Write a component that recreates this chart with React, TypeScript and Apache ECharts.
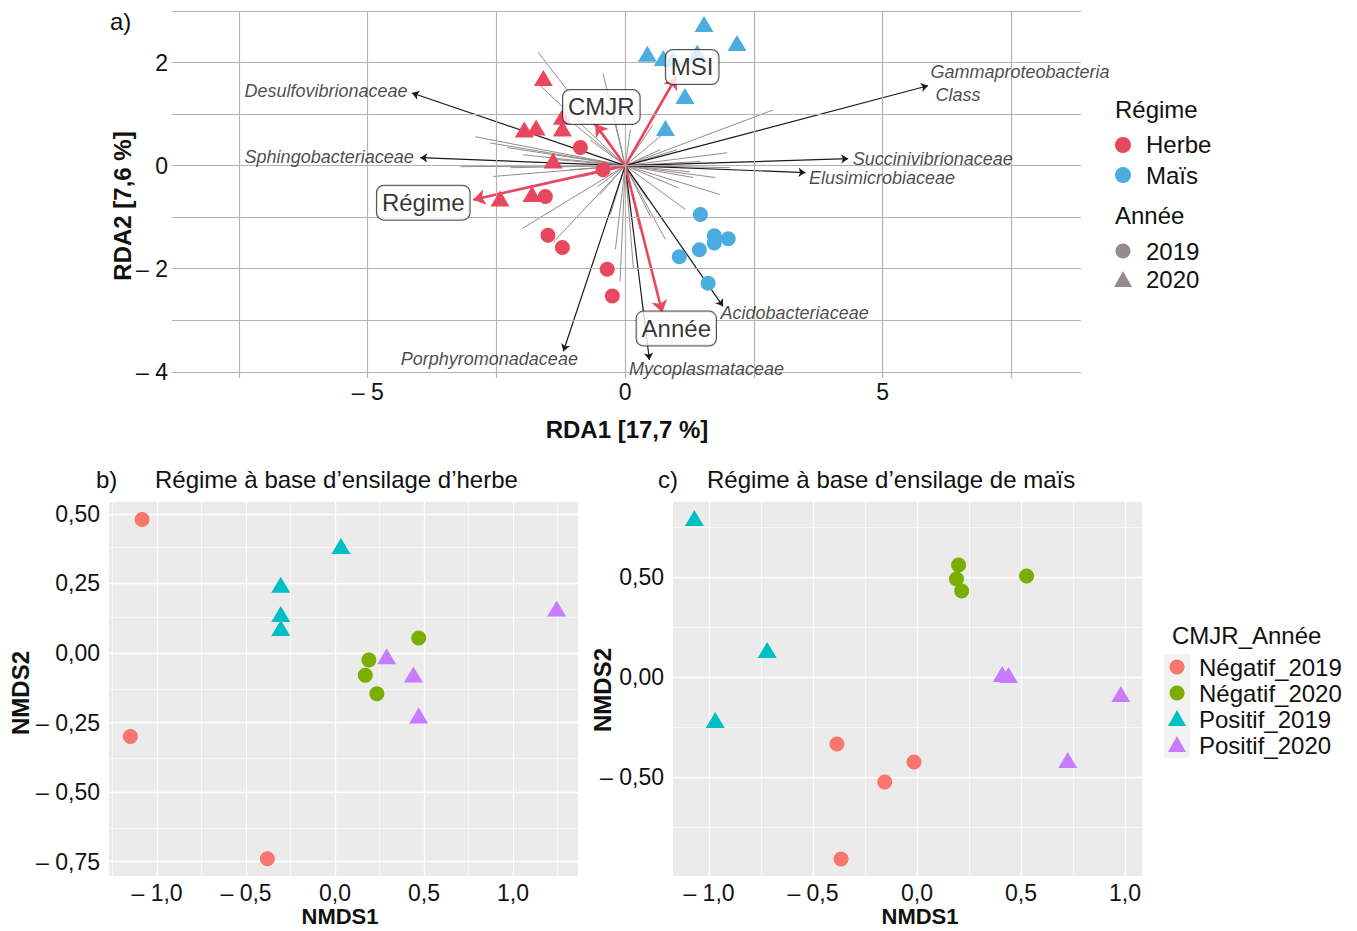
import { useEffect, useRef } from 'react';
import * as echarts from 'echarts';

// ---------- Panel a) RDA ----------
const herbe2019 = [[-0.87, 0.35], [-0.43, -0.08], [-1.55, -0.6], [-1.5, -1.35], [-1.22, -1.59], [-0.35, -2.01], [-0.25, -2.53]];
const herbe2020 = [[-1.59, 1.7], [-1.96, 0.7], [-1.73, 0.74], [-1.22, 0.95], [-1.22, 0.72], [-1.4, 0.1], [-2.43, -0.64], [-1.81, -0.55]];
const mais2019 = [[1.46, -0.95], [1.73, -1.36], [1.73, -1.5], [2.0, -1.42], [1.44, -1.63], [1.05, -1.77], [1.61, -2.28]];
const mais2020 = [[0.43, 2.17], [0.74, 2.09], [0.93, 2.07], [1.4, 2.19], [1.53, 2.75], [2.17, 2.38], [1.16, 1.35], [0.78, 0.73]];

const grayEnds = [
  [-1.69, 2.2], [-0.43, 1.78], [-1.65, 1.55], [-2.91, 0.56], [-3.2, -0.02], [-2.62, 0.44], [-2.29, 0.35],
  [-1.98, 0.21], [-2.56, -0.21], [-2.0, -1.22], [-1.4, -1.49], [-0.82, -0.21], [-0.54, -0.41], [-0.1, -2.25],
  [2.87, 1.08], [1.98, 0.25], [1.01, 0.31], [0.72, 0.6], [0.54, 0.79], [1.84, -0.56], [1.75, -0.23],
  [1.17, -0.85], [1.03, -0.43], [0.49, -0.99], [0.43, -0.66], [-0.25, 1.12], [0.1, 0.7], [0.29, 0.5],
  [1.46, 0.08], [2.04, -0.04], [1.26, -0.12], [-1.36, 0.12], [-1.07, -0.08], [-2.23, -0.04], [-0.49, -0.56],
  [-0.29, -0.95], [0.29, -1.24], [0.78, -1.43], [-0.68, 0.5], [-0.97, 0.79], [0.68, 0.31], [1.32, -0.23],
  [-0.19, -1.62], [0.16, -2.01],
];

const speciesNames = ['Desulfovibrionaceae', 'Sphingobacteriaceae', 'Gammaproteobacteria\n Class', 'Succinivibrionaceae', 'Elusimicrobiaceae', 'Acidobacteriaceae', 'Porphyromonadaceae', 'Mycoplasmataceae'];
const speciesX = [-4.14, -3.98, 5.88, 4.33, 3.5, 1.9, -1.2, 0.47];
const speciesY = [1.41, 0.155, 1.55, 0.135, -0.135, -2.73, -3.6, -3.77];

const envNames = ['MSI', 'CMJR', 'Régime', 'Année'];
const envX = [0.99, -0.58, -2.95, 0.72];
const envY = [1.72, 0.81, -0.66, -2.85];

const topXTicks = [-5, 0, 5];
const topYTicks = [-4, -2, 0, 2];
const topXGrid = [-7.5, -5, -2.5, 0, 2.5, 5, 7.5];
const topYGrid = [-4, -3, -2, -1, 0, 1, 2, 3];

// ---------- Panel b) herbe ----------
const bNeg2019 = [[-1.084, 0.48], [-1.15, -0.3], [-0.38, -0.74]];
const bNeg2020 = [[0.47, 0.054], [0.19, -0.025], [0.17, -0.08], [0.235, -0.147]];
const bPos2019 = [[0.033, 0.385], [-0.305, 0.245], [-0.305, 0.14], [-0.305, 0.09]];
const bPos2020 = [[1.245, 0.16], [0.29, -0.012], [0.44, -0.077], [0.47, -0.225]];
const bXTicks = [-1, -0.5, 0, 0.5, 1];
const bYTicks = [-0.75, -0.5, -0.25, 0, 0.25, 0.5];
const bXMinor = [-1.25, -0.75, -0.25, 0.25, 0.75, 1.25];
const bYMinor = [-0.625, -0.375, -0.125, 0.125, 0.375];

// ---------- Panel c) maïs ----------
const cNeg2019 = [[-0.385, -0.335], [-0.014, -0.425], [-0.155, -0.525], [-0.365, -0.91]];
const cNeg2020 = [[0.2, 0.56], [0.19, 0.49], [0.215, 0.43], [0.527, 0.505]];
const cPos2019 = [[-1.07, 0.795], [-0.72, 0.135], [-0.97, -0.215]];
const cPos2020 = [[0.41, 0.015], [0.44, 0.01], [0.98, -0.085], [0.725, -0.415]];
const cXTicks = [-1, -0.5, 0, 0.5, 1];
const cYTicks = [-0.5, 0, 0.5];
const cXMinor = [-0.75, -0.25, 0.25, 0.75];
const cYMinor = [-0.75, -0.25, 0.25, 0.75];

const FONT = "'Liberation Sans', Arial, Helvetica, sans-serif";
const HERBE = '#E8485F';
const MAIS = '#4BACE0';
const GRAYLEG = '#958B8B';
const GRAYLINE = '#958B8B';
const TOPGRID = '#B9B1B1';
const COL = ['#F8766D', '#7CAE00', '#00BFC4', '#C77CFF'];
const TXT = '#111';

const dash = (v: number, s: string) => (v < 0 ? '– ' + s : s);
const fmtTop = (v: number) => dash(v, String(Math.abs(v)));
const fmt1 = (v: number) => dash(v, Math.abs(v).toFixed(1).replace('.', ','));
const fmt2 = (v: number) => dash(v, Math.abs(v).toFixed(2).replace('.', ','));

function gridSeries(idx: number, xs: number[], ys: number[], color: string, width: number, xsMinor: number[] = [], ysMinor: number[] = [], minorW = 0) {
  const data: any[] = [];
  xsMinor.forEach((v) => data.push({ xAxis: v, lineStyle: { width: minorW, color, type: 'solid' } }));
  ysMinor.forEach((v) => data.push({ yAxis: v, lineStyle: { width: minorW, color, type: 'solid' } }));
  xs.forEach((v) => data.push({ xAxis: v, lineStyle: { width, color, type: 'solid' } }));
  ys.forEach((v) => data.push({ yAxis: v, lineStyle: { width, color, type: 'solid' } }));
  return {
    type: 'scatter', xAxisIndex: idx, yAxisIndex: idx, data: [], z: 0, silent: true,
    markLine: { silent: true, symbol: ['none', 'none'], label: { show: false }, emphasis: { disabled: true }, data, animation: false },
  };
}

const CIRCLE = 15;
const TRI = [19, 16];

function pts(idx: number, name: string, data: number[][], color: string, tri: boolean) {
  return {
    type: 'scatter', name, xAxisIndex: idx, yAxisIndex: idx, data, z: 5,
    symbol: tri ? 'triangle' : 'circle', symbolSize: tri ? TRI : CIRCLE,
    itemStyle: { color, opacity: 1 }, silent: true,
  };
}

function arrowSeries(ends: number[][], color: string, width: number, head: number, z: number) {
  return {
    type: 'lines', coordinateSystem: 'cartesian2d', xAxisIndex: 0, yAxisIndex: 0, z, silent: true,
    symbol: ['none', head > 0 ? 'arrow' : 'none'], symbolSize: [0, head],
    lineStyle: { color, width, opacity: 1, curveness: 0 },
    data: ends.map((e) => ({ coords: [[0, 0], e] })),
  };
}

const spPos = ['left', 'left', 'right', 'right', 'right', 'right', 'left', 'right'];
const spAlign = ['right', 'right', 'left', 'left', 'left', 'left', 'right', 'left'];
const spDist = [4, 6, 2, 4, 3, 0, 0, 0];
const spOff = [[0, -2], [0, -1], [0, -2], [0, 0], [0, 5], [-3, 7], [15, 8], [-21, 9]];
const envOff = [[16, -10], [6, -17], [-50, 3], [14, 16]];

function valueAxis(idx: number, min: number, max: number, ticks: number[], fmt: (v: number) => string, margin: number, showTick: boolean) {
  return {
    type: 'value', gridIndex: idx, min, max, scale: true,
    axisLine: { show: false },
    splitLine: { show: false },
    axisTick: showTick ? { show: true, customValues: ticks, length: 4, lineStyle: { color: '#333', width: 1 } } : { show: false },
    axisLabel: { customValues: ticks, formatter: fmt, fontSize: 23, lineHeight: 23, fontFamily: FONT, color: TXT, margin },
  };
}

function txt(text: string, x: number, y: number, size: number, opts: any = {}) {
  return {
    type: 'text', x, y, rotation: opts.rotation || 0, silent: true,
    style: {
      text, x: 0, y: 0, fill: opts.fill || TXT,
      font: `${opts.style || 'normal'} ${opts.weight || 'normal'} ${size}px ${FONT}`,
      textAlign: opts.align || 'left', textVerticalAlign: 'middle', align: opts.align || 'left', verticalAlign: 'middle',
    },
  };
}

const triPts = (cx: number, cy: number, w: number, h: number) => [[cx - w / 2, cy + h / 2], [cx + w / 2, cy + h / 2], [cx, cy - h / 2]];

const option: any = {
  animation: false,
  backgroundColor: '#fff',
  grid: [
    { left: 172, top: 11, width: 909, height: 367, show: false },
    { left: 109, top: 502, width: 469, height: 374, show: true, backgroundColor: '#EBEBEB', borderWidth: 0 },
    { left: 673, top: 502, width: 469, height: 374, show: true, backgroundColor: '#EBEBEB', borderWidth: 0 },
  ],
  xAxis: [
    valueAxis(0, -8.8, 8.85, topXTicks, fmtTop, 2, false),
    valueAxis(1, -1.27, 1.365, bXTicks, fmt1, 5, true),
    valueAxis(2, -1.173, 1.082, cXTicks, fmt1, 5, true),
  ],
  yAxis: [
    valueAxis(0, -4.12, 3, topYTicks, fmtTop, 4, false),
    valueAxis(1, -0.802, 0.543, bYTicks, fmt2, 9, true),
    valueAxis(2, -0.995, 0.875, cYTicks, fmt2, 9, true),
  ],
  series: [
    gridSeries(0, topXGrid, topYGrid, TOPGRID, 1.2),
    gridSeries(1, bXTicks, bYTicks, '#FFFFFF', 1.3, bXMinor, bYMinor, 0.6),
    gridSeries(2, cXTicks, cYTicks, '#FFFFFF', 1.3, cXMinor, cYMinor, 0.6),
    arrowSeries(grayEnds, GRAYLINE, 1, 0, 2),
    arrowSeries(speciesX.map((x, i) => [x, speciesY[i]]), '#1a1a1a', 1.2, 7, 3),
    arrowSeries(envX.map((x, i) => [x, envY[i]]), HERBE, 2.6, 12, 4),
    pts(0, 'Herbe 2019', herbe2019, HERBE, false),
    pts(0, 'Herbe 2020', herbe2020, HERBE, true),
    pts(0, 'Maïs 2019', mais2019, MAIS, false),
    pts(0, 'Maïs 2020', mais2020, MAIS, true),
    {
      type: 'scatter', xAxisIndex: 0, yAxisIndex: 0, z: 8, silent: true, symbolSize: 1,
      itemStyle: { color: 'rgba(0,0,0,0)' },
      data: speciesNames.map((n, i) => ({
        value: [speciesX[i], speciesY[i]],
        label: {
          show: true, formatter: n, position: spPos[i], distance: spDist[i], offset: spOff[i], align: spAlign[i],
          fontFamily: FONT, fontStyle: 'italic', fontSize: 18, color: '#1a1a1a', lineHeight: 23,
        },
      })),
    },
    {
      type: 'scatter', xAxisIndex: 0, yAxisIndex: 0, z: 9, silent: true, symbolSize: 1,
      itemStyle: { color: 'rgba(0,0,0,0)' },
      data: envNames.map((n, i) => ({
        value: [envX[i], envY[i]],
        label: {
          show: true, formatter: n, position: 'inside', offset: envOff[i],
          fontFamily: FONT, fontSize: 24, color: '#000',
          backgroundColor: '#fff', borderColor: '#222', borderWidth: 1, borderRadius: 7, padding: [6, 5, 4, 5],
        },
      })),
    },
    pts(1, 'Négatif_2019', bNeg2019, COL[0], false),
    pts(1, 'Négatif_2020', bNeg2020, COL[1], false),
    pts(1, 'Positif_2019', bPos2019, COL[2], true),
    pts(1, 'Positif_2020', bPos2020, COL[3], true),
    pts(2, 'Négatif_2019', cNeg2019, COL[0], false),
    pts(2, 'Négatif_2020', cNeg2020, COL[1], false),
    pts(2, 'Positif_2019', cPos2019, COL[2], true),
    pts(2, 'Positif_2020', cPos2020, COL[3], true),
  ],
  graphic: {
    elements: [
      txt('a)', 110, 21, 24),
      txt('RDA2 [7,6 %]', 122, 206, 24, { weight: 'bold', align: 'center', rotation: Math.PI / 2 }),
      txt('RDA1 [17,7 %]', 627, 429, 24, { weight: 'bold', align: 'center' }),
      // top legend
      txt('Régime', 1115, 109, 24),
      { type: 'circle', shape: { cx: 1123, cy: 145, r: 8 }, style: { fill: HERBE }, silent: true },
      txt('Herbe', 1146, 144, 24),
      { type: 'circle', shape: { cx: 1123, cy: 175, r: 8 }, style: { fill: MAIS }, silent: true },
      txt('Maïs', 1146, 175, 24),
      txt('Année', 1115, 215, 24),
      { type: 'circle', shape: { cx: 1123, cy: 251, r: 7.5 }, style: { fill: GRAYLEG }, silent: true },
      txt('2019', 1146, 251, 24),
      { type: 'polygon', shape: { points: triPts(1123, 279, 18, 16) }, style: { fill: GRAYLEG }, silent: true },
      txt('2020', 1146, 279, 24),
      // panel b
      txt('b)', 96, 479, 24),
      txt('Régime à base d\u2019ensilage d\u2019herbe', 155, 479, 24),
      txt('NMDS2', 20, 693, 24, { weight: 'bold', align: 'center', rotation: Math.PI / 2 }),
      txt('NMDS1', 340, 916, 22, { weight: 'bold', align: 'center' }),
      // panel c
      txt('c)', 658, 479, 24),
      txt('Régime à base d\u2019ensilage de maïs', 707, 479, 24),
      txt('NMDS2', 602, 690, 24, { weight: 'bold', align: 'center', rotation: Math.PI / 2 }),
      txt('NMDS1', 920, 916, 22, { weight: 'bold', align: 'center' }),
      // legend c
      txt('CMJR_Année', 1172, 635, 24),
      { type: 'rect', shape: { x: 1164, y: 654, width: 26, height: 104 }, style: { fill: '#F2F2F2' }, silent: true },
      { type: 'circle', shape: { cx: 1177, cy: 667, r: 7.5 }, style: { fill: COL[0] }, silent: true },
      { type: 'circle', shape: { cx: 1177, cy: 693, r: 7.5 }, style: { fill: COL[1] }, silent: true },
      { type: 'polygon', shape: { points: triPts(1177, 718, 18, 16) }, style: { fill: COL[2] }, silent: true },
      { type: 'polygon', shape: { points: triPts(1177, 744, 18, 16) }, style: { fill: COL[3] }, silent: true },
      txt('Négatif_2019', 1199, 667, 24),
      txt('Négatif_2020', 1199, 693, 24),
      txt('Positif_2019', 1199, 719, 24),
      txt('Positif_2020', 1199, 745, 24),
    ],
  },
};

export default function App() {
  const ref = useRef<HTMLDivElement>(null);
  useEffect(() => {
    if (!ref.current) return;
    const chart = echarts.init(ref.current, null, { renderer: 'svg' });
    chart.setOption(option);
    return () => chart.dispose();
  }, []);
  return (
    <div
      ref={ref}
      style={{ position: 'fixed', left: 0, top: 0, width: 1357, height: 931, background: '#fff' }}
    />
  );
}
